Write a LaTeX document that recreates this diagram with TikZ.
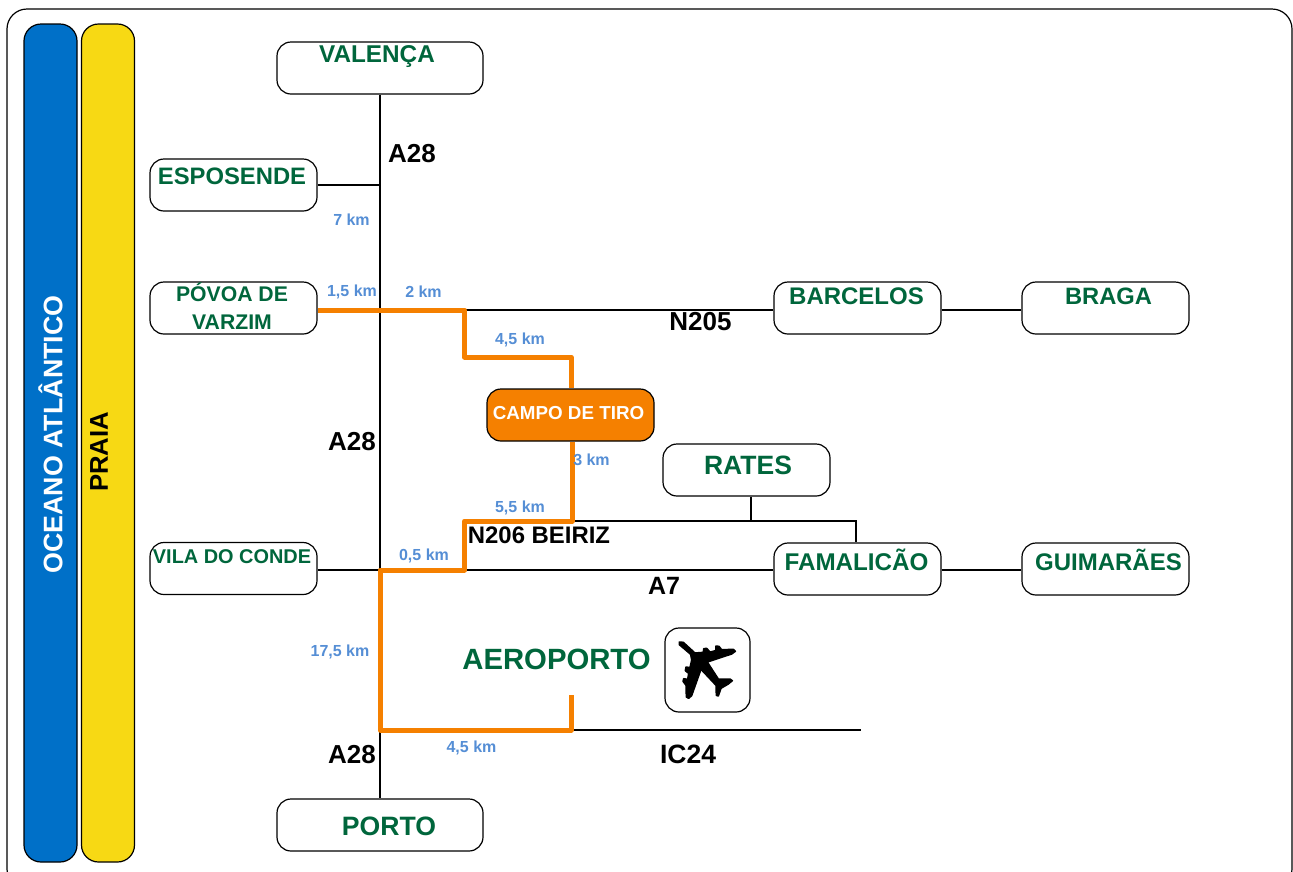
\documentclass[tikz,border=0pt]{standalone}
\usepackage{fontspec}
\setmainfont{Liberation Sans}
\definecolor{cgreen}{HTML}{00663C}
\definecolor{cblue}{HTML}{0070C8}
\definecolor{cyellow}{HTML}{F7D914}
\definecolor{corange}{HTML}{F58000}
\definecolor{ckm}{HTML}{558ED5}
\newcommand{\fs}[1]{\fontsize{#1}{#1}\selectfont\bfseries}
\tikzset{
 box/.style={draw=black,line width=1.2pt,rounded corners=14pt,fill=white,inner sep=0pt},
 cityw/.style={box,minimum width=167pt,minimum height=52pt},
 cityl/.style={box,minimum width=206pt,minimum height=52pt},
 strip/.style={draw=black,line width=1.2pt,rounded corners=17pt,inner sep=0pt,minimum width=53pt,minimum height=838pt},
 city/.style={text=cgreen,inner sep=0pt,anchor=center,align=center},
 road/.style={text=black,inner sep=0pt,anchor=center},
 km/.style={text=ckm,inner sep=0pt,anchor=center,font=\fs{16}},
 blk/.style={draw=black,line width=2.2pt},
 org/.style={draw=corange,line width=5pt,line join=round},
}
\begin{document}
\begin{tikzpicture}[x=1pt,y=-1pt]
\useasboundingbox (0,0) rectangle (1293,871);
\node[draw=black,line width=1.2pt,rounded corners=20pt,inner sep=0pt,minimum width=1285pt,minimum height=880pt] (frame) at (649.5,449) {};
\node[strip,fill=cblue] (ocean) at (50.5,443) {};
\node[strip,fill=cyellow] (beach) at (108,443) {};
\node[rotate=90,text=white,inner sep=0pt,font=\fs{26.8}] (oceant) at (50.5,434.5) {OCEANO ATLÂNTICO};
\node[rotate=90,text=black,inner sep=0pt,font=\fs{25.7}] (beacht) at (99,452) {PRAIA};
% junction points
\coordinate (jesp) at (380,185);
\coordinate (jpov) at (380,310);
\coordinate (jvil) at (380,570);
\coordinate (o1) at (464.5,310);
\coordinate (o2) at (464.5,357);
\coordinate (o3) at (571,357);
\coordinate (o4) at (572,521);
\coordinate (o5) at (464.5,521);
\coordinate (o6) at (464.5,570);
\coordinate (o7) at (380,730);
\coordinate (o8) at (571,730);
\coordinate (o9) at (571,695);
\coordinate (ic) at (861,730);
\coordinate (jrat) at (751,521);
\coordinate (jfam) at (856,521);
% boxes
\node[cityl] (valenca) at (380,68) {};
\node[cityw] (esposende) at (233.5,185) {};
\node[cityw] (povoa) at (233.5,308) {};
\node[cityw] (barcelos) at (857.5,308) {};
\node[cityw] (braga) at (1105.5,308) {};
\node[cityw,fill=corange] (campo) at (570.5,415) {};
\node[cityw] (rates) at (746.5,470) {};
\node[cityw] (vila) at (233.5,568.5) {};
\node[cityw] (famalicao) at (857.5,569) {};
\node[cityw] (guimaraes) at (1105.5,569) {};
\node[cityl] (porto) at (380,825) {};
\node[box] (planebox) at (707.5,670) [minimum width=85pt,minimum height=84pt] {};
% black roads
\draw[blk] (valenca.south) -- (porto.north);
\draw[blk] (esposende.east |- jesp) -- (jesp);
\draw[blk] (vila.east |- jvil) -- (jvil);
\draw[blk] (o1) -- (barcelos.west |- o1);
\draw[blk] (barcelos.east |- o1) -- (braga.west |- o1);
\draw[blk] (o6) -- (famalicao.west |- o6);
\draw[blk] (famalicao.east |- o6) -- (guimaraes.west |- o6);
\draw[blk] (o8) -- (ic);
\draw[blk] (o4) -- (jfam) -- (jfam |- famalicao.north);
\draw[blk] (rates.south -| jrat) -- (jrat);
% orange route
\draw[org] (povoa.east |- jpov) -- (o1) -- (o2) -- (o3) -- (o3 |- campo.north);
\draw[org] (o4 |- campo.south) -- (o4) -- (o5) -- (o6) -- (jvil) -- (o7) -- (o8) -- (o9);
% city labels
\node[city,font=\fs{24.3}] (tval) at (377,57) {VALENÇA};
\node[city,font=\fs{23.8}] (tesp) at (232,176) {ESPOSENDE};
\node[city,font=\fs{21.2}] (tpov) at (232,306) {PÓVOA DE\\[6pt]VARZIM};
\node[city,font=\fs{24}] (tbar) at (856.5,296) {BARCELOS};
\node[city,font=\fs{23.7}] (tbra) at (1108.5,296) {BRAGA};
\node[inner sep=0pt,text=white,font=\fs{18.8}] (tcam) at (568.5,413) {CAMPO DE TIRO};
\node[city,font=\fs{26.5}] (trat) at (748,465) {RATES};
\node[city,font=\fs{19.9}] (tvil) at (232,557) {VILA DO CONDE};
\node[city,font=\fs{24.2}] (tfam) at (856.5,560) {FAMALICÃO};
\node[city,font=\fs{24}] (tgui) at (1108.5,560) {GUIMARÃES};
\node[city,font=\fs{26.6}] (tpor) at (389,826) {PORTO};
\node[city,font=\fs{29.3}] (taer) at (556.5,659.5) {AEROPORTO};
% road labels
\node[road,font=\fs{26}] (r1) at (412,153.5) {A28};
\node[road,font=\fs{26}] (r2) at (352,441.5) {A28};
\node[road,font=\fs{26}] (r3) at (352,754.5) {A28};
\node[road,font=\fs{26}] (r4) at (700.5,322) {N205};
\node[road,font=\fs{23.9}] (r5) at (539,535.5) {N206 BEIRIZ};
\node[road,font=\fs{25}] (r6) at (664,585.5) {A7};
\node[road,font=\fs{26.5}] (r7) at (688,754.5) {IC24};
% distances
\node[km] (k1) at (351.5,220) {7 km};
\node[km] (k2) at (352,292) {1,5 km};
\node[km] (k3) at (423.5,292) {2 km};
\node[km] (k4) at (520,340) {4,5 km};
\node[km] (k5) at (591.5,460) {3 km};
\node[km] (k6) at (520,508) {5,5 km};
\node[km] (k7) at (424,556) {0,5 km};
\node[km] (k8) at (340,652) {17,5 km};
\node[km] (k9) at (471.5,748) {4,5 km};
% plane
\begin{scope}[shift={(650,610)},x=0.3333pt,y=-0.3333pt]
\filldraw[black,line width=1.5pt,line join=round] (88,96) -- (100,97) -- (135,129) -- (160,127) -- (161,116) -- (170,115) -- (180,126) -- (197,122) -- (198,108) -- (207,109) -- (215,119) -- (250,118) -- (256,124) -- (245,132) -- (172,156) -- (205,207) -- (240,207) -- (247,212) -- (235,222) -- (213,235) -- (205,258) -- (199,256) -- (198,226) -- (153,178) -- (125,257) -- (116,265) -- (109,261) -- (108,226) -- (99,214) -- (101,206) -- (113,208) -- (116,190) -- (106,182) -- (108,171) -- (120,173) -- (125,150) -- (122,133) -- (88,104) -- cycle;
\end{scope}
\end{tikzpicture}
\end{document}
